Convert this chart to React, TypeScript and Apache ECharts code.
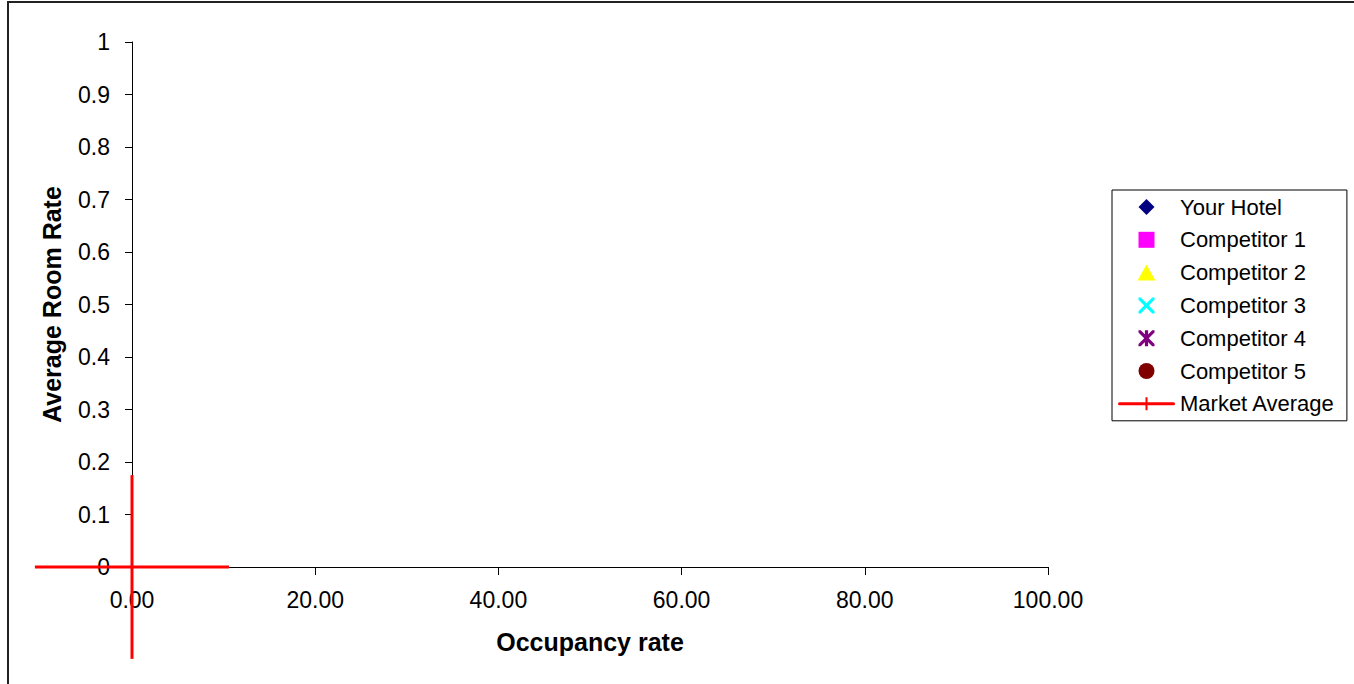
import React, { useEffect, useRef } from "react";
import * as echarts from "echarts";

// Hotel positioning: occupancy rate vs. average room rate
const hotelNames = ["Your Hotel", "Competitor 1", "Competitor 2", "Competitor 3", "Competitor 4", "Competitor 5"];
const hotelColors = ["#000080", "#FF00FF", "#FFFF00", "#00FFFF", "#800080", "#800000"];
// [occupancy, room rate] pairs per hotel (no figures entered yet)
const yourHotel: number[][] = [];
const competitor1: number[][] = [];
const competitor2: number[][] = [];
const competitor3: number[][] = [];
const competitor4: number[][] = [];
const competitor5: number[][] = [];
const hotelData = [yourHotel, competitor1, competitor2, competitor3, competitor4, competitor5];

// Market average point and its spread (error bars) in axis units
const marketAverage = [[0, 0]];
const marketSpreadX = [10.6];
const marketSpreadY = [0.175];

const xTicks = [0, 20, 40, 60, 80, 100];
const yTicks = [0, 0.1, 0.2, 0.3, 0.4, 0.5, 0.6, 0.7, 0.8, 0.9, 1];

// Marker outlines, as filled paths so that the legend keeps their proportions
const diamondPath = "M10,0 L20,10 L10,20 L0,10 Z";
const squarePath = "M0,0 L20,0 L20,20 L0,20 Z";
const trianglePath = "M10,0 L20,18 L0,18 Z";
const crossPath =
  "M0,0 L2.8,0 L10,7.2 L17.2,0 L20,0 L20,2.8 L12.8,10 L20,17.2 L20,20 L17.2,20 L10,12.8 L2.8,20 L0,20 L0,17.2 L7.2,10 L0,2.8 Z";
const starPath = crossPath + " M8,0 L12,0 L12,20 L8,20 Z";
const circlePath = "M10,0 A10,10 0 1,1 10,20 A10,10 0 1,1 10,0 Z";
const marketIcon = "M1.5,5 L55.5,5 A1.5,1.5 0 0,1 55.5,8 L1.5,8 A1.5,1.5 0 0,1 1.5,5 Z M27.5,0 L29.5,0 L29.5,13 L27.5,13 Z";
const hotelIcons = [diamondPath, squarePath, trianglePath, crossPath, starPath, circlePath].map((d) => "path://" + d);

const FONT = "'Liberation Sans', Arial, Helvetica, sans-serif";

export default function App() {
  const ref = useRef<HTMLDivElement>(null);

  useEffect(() => {
    if (!ref.current) return;
    const chart = echarts.init(ref.current, undefined, { renderer: "svg" });

    const scatterSeries = hotelNames.map((name, i) => ({
      name,
      type: "scatter",
      symbol: hotelIcons[i],
      symbolSize: 12,
      itemStyle: { color: hotelColors[i], opacity: 1 },
      data: hotelData[i],
    }));

    const marketSeries = {
      name: "Market Average",
      type: "custom",
      clip: false,
      itemStyle: { color: "#FF0000", opacity: 1 },
      data: marketAverage.map((p, i) => [p[0], p[1], marketSpreadX[i], marketSpreadY[i]]),
      renderItem: (_params: any, api: any) => {
        const x = api.value(0);
        const y = api.value(1);
        const dx = api.value(2);
        const dy = api.value(3);
        const left = api.coord([x - dx, y]);
        const right = api.coord([x + dx, y]);
        const top = api.coord([x, y + dy]);
        const bottom = api.coord([x, y - dy]);
        const style = { stroke: "#FF0000", lineWidth: 3 };
        return {
          type: "group",
          children: [
            { type: "line", shape: { x1: left[0], y1: left[1], x2: right[0], y2: right[1] }, style },
            { type: "line", shape: { x1: top[0], y1: top[1], x2: bottom[0], y2: bottom[1] }, style },
          ],
        };
      },
    };

    chart.setOption({
      animation: false,
      backgroundColor: "#FFFFFF",
      textStyle: { fontFamily: FONT },
      graphic: [
        {
          type: "rect",
          shape: { x: 8, y: 2, width: 1400, height: 800 },
          style: { fill: "none", stroke: "#222", lineWidth: 2 },
          silent: true,
        },
      ],
      grid: { left: 132, top: 42, width: 916, height: 525 },
      xAxis: {
        type: "value",
        min: xTicks[0],
        max: xTicks[xTicks.length - 1],
        interval: xTicks[1] - xTicks[0],
        name: "Occupancy rate",
        nameLocation: "middle",
        nameGap: 62,
        nameTextStyle: { fontSize: 25, fontWeight: "bold", color: "#000", fontFamily: FONT },
        axisLine: { onZero: false, lineStyle: { color: "#000", width: 1 } },
        axisTick: { show: true, inside: false, length: 8, lineStyle: { color: "#000" } },
        axisLabel: {
          margin: 21,
          fontSize: 23,
          color: "#000",
          fontFamily: FONT,
          formatter: (v: number) => v.toFixed(2),
        },
        splitLine: { show: false },
      },
      yAxis: {
        type: "value",
        min: yTicks[0],
        max: yTicks[yTicks.length - 1],
        interval: 0.1,
        name: "Average Room Rate",
        nameLocation: "middle",
        nameGap: 68,
        nameTextStyle: { fontSize: 25, fontWeight: "bold", color: "#000", fontFamily: FONT },
        axisLine: { show: true, onZero: false, lineStyle: { color: "#000", width: 1 } },
        axisTick: { show: true, inside: false, length: 7, lineStyle: { color: "#000" } },
        axisLabel: {
          margin: 22,
          fontSize: 23,
          color: "#000",
          fontFamily: FONT,
          formatter: (v: number) => String(Math.round(v * 10) / 10),
        },
        splitLine: { show: false },
      },
      legend: {
        orient: "vertical",
        left: 1112,
        top: 190,
        padding: [6, 12, 6, 6],
        itemWidth: 57,
        itemHeight: 16,
        itemGap: 10.8,
        symbolKeepAspect: true,
        borderColor: "#000",
        borderWidth: 1,
        backgroundColor: "#FFFFFF",
        textStyle: { fontSize: 22, color: "#000", fontFamily: FONT, lineHeight: 22 },
        data: [
          ...hotelNames.map((name, i) => ({ name, icon: hotelIcons[i] })),
          { name: "Market Average", icon: "path://" + marketIcon },
        ],
      },
      series: [...scatterSeries, marketSeries],
    });

    return () => chart.dispose();
  }, []);

  return (
    <div
      ref={ref}
      style={{ position: "absolute", left: 0, top: 0, width: 1354, height: 684 }}
    />
  );
}
